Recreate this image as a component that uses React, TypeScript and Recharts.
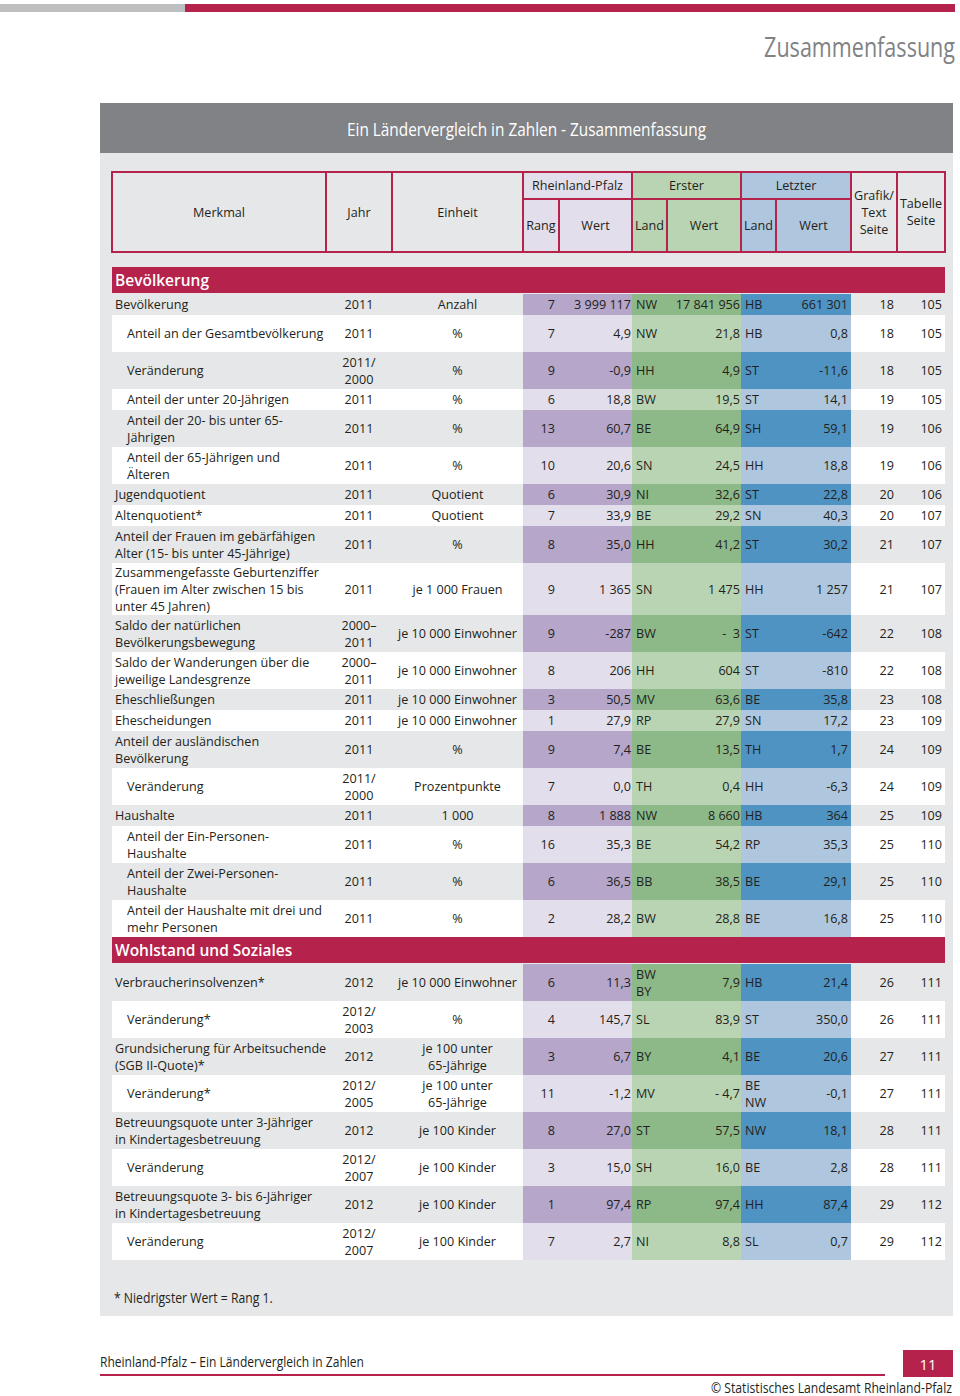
import React from "react";
import { BarChart, Bar, XAxis, YAxis } from "recharts";

const FONT = "'Open Sans', 'Noto Sans', sans-serif";
const RED = "#b5224b";
const INK = "#231f20";

// decorative top band (grey + red segments)
const topBand = [{ name: "band", grey: 185, red: 770 }];

// ---- table data, one array per column ----
const merkmal = [
  "Bevölkerung",
  "Anteil an der Gesamtbevölkerung",
  "Veränderung",
  "Anteil der unter 20-Jährigen",
  "Anteil der 20- bis unter 65-\nJährigen",
  "Anteil der 65-Jährigen und\nÄlteren",
  "Jugendquotient",
  "Altenquotient*",
  "Anteil der Frauen im gebärfähigen\nAlter (15- bis unter 45-Jährige)",
  "Zusammengefasste Geburtenziffer\n(Frauen im Alter zwischen 15 bis\nunter 45 Jahren)",
  "Saldo der natürlichen\nBevölkerungsbewegung",
  "Saldo der Wanderungen über die\njeweilige Landesgrenze",
  "Eheschließungen",
  "Ehescheidungen",
  "Anteil der ausländischen\nBevölkerung",
  "Veränderung",
  "Haushalte",
  "Anteil der Ein-Personen-\nHaushalte",
  "Anteil der Zwei-Personen-\nHaushalte",
  "Anteil der Haushalte mit drei und\nmehr Personen",
  "Verbraucherinsolvenzen*",
  "Veränderung*",
  "Grundsicherung für Arbeitsuchende\n(SGB II-Quote)*",
  "Veränderung*",
  "Betreuungsquote unter 3-Jähriger\nin Kindertagesbetreuung",
  "Veränderung",
  "Betreuungsquote 3- bis 6-Jähriger\nin Kindertagesbetreuung",
  "Veränderung",
];
const indented = [
  false, true, true, true, true, true, false, false, false, false,
  false, false, false, false, false, true, false, true, true, true,
  false, true, false, true, false, true, false, true,
];
const rowLines = [
  1, 2, 2, 1, 2, 2, 1, 1, 2, 3,
  2, 2, 1, 1, 2, 2, 1, 2, 2, 2,
  2, 2, 2, 2, 2, 2, 2, 2,
];
const jahr = [
  "2011", "2011", "2011/\n2000", "2011", "2011", "2011", "2011", "2011", "2011", "2011",
  "2000–\n2011", "2000–\n2011", "2011", "2011", "2011", "2011/\n2000", "2011", "2011", "2011", "2011",
  "2012", "2012/\n2003", "2012", "2012/\n2005", "2012", "2012/\n2007", "2012", "2012/\n2007",
];
const einheit = [
  "Anzahl", "%", "%", "%", "%", "%", "Quotient", "Quotient", "%", "je 1 000 Frauen",
  "je 10 000 Einwohner", "je 10 000 Einwohner", "je 10 000 Einwohner", "je 10 000 Einwohner", "%", "Prozentpunkte", "1 000", "%", "%", "%",
  "je 10 000 Einwohner", "%", "je 100 unter\n65-Jährige", "je 100 unter\n65-Jährige", "je 100 Kinder", "je 100 Kinder", "je 100 Kinder", "je 100 Kinder",
];
const rang = [
  "7", "7", "9", "6", "13", "10", "6", "7", "8", "9",
  "9", "8", "3", "1", "9", "7", "8", "16", "6", "2",
  "6", "4", "3", "11", "8", "3", "1", "7",
];
const rpWert = [
  "3 999 117", "4,9", "-0,9", "18,8", "60,7", "20,6", "30,9", "33,9", "35,0", "1 365",
  "-287", "206", "50,5", "27,9", "7,4", "0,0", "1 888", "35,3", "36,5", "28,2",
  "11,3", "145,7", "6,7", "-1,2", "27,0", "15,0", "97,4", "2,7",
];
const ersterLand = [
  "NW", "NW", "HH", "BW", "BE", "SN", "NI", "BE", "HH", "SN",
  "BW", "HH", "MV", "RP", "BE", "TH", "NW", "BE", "BB", "BW",
  "BW\nBY", "SL", "BY", "MV", "ST", "SH", "RP", "NI",
];
const ersterWert = [
  "17 841 956", "21,8", "4,9", "19,5", "64,9", "24,5", "32,6", "29,2", "41,2", "1 475",
  "-  3", "604", "63,6", "27,9", "13,5", "0,4", "8 660", "54,2", "38,5", "28,8",
  "7,9", "83,9", "4,1", "- 4,7", "57,5", "16,0", "97,4", "8,8",
];
const letzterLand = [
  "HB", "HB", "ST", "ST", "SH", "HH", "ST", "SN", "ST", "HH",
  "ST", "ST", "BE", "SN", "TH", "HH", "HB", "RP", "BE", "BE",
  "HB", "ST", "BE", "BE\nNW", "NW", "BE", "HH", "SL",
];
const letzterWert = [
  "661 301", "0,8", "-11,6", "14,1", "59,1", "18,8", "22,8", "40,3", "30,2", "1 257",
  "-642", "-810", "35,8", "17,2", "1,7", "-6,3", "364", "35,3", "29,1", "16,8",
  "21,4", "350,0", "20,6", "-0,1", "18,1", "2,8", "87,4", "0,7",
];
const grafikSeite = [
  "18", "18", "18", "19", "19", "19", "20", "20", "21", "21",
  "22", "22", "23", "23", "24", "24", "25", "25", "25", "25",
  "26", "26", "27", "27", "28", "28", "29", "29",
];
const tabelleSeite = [
  "105", "105", "105", "105", "106", "106", "106", "107", "107", "107",
  "108", "108", "108", "109", "109", "109", "109", "110", "110", "110",
  "111", "111", "111", "111", "111", "111", "112", "112",
];
const sections = [
  { title: "Bevölkerung", from: 0, to: 20 },
  { title: "Wohlstand und Soziales", from: 20, to: 28 },
];

const PURPLE = ["#b5a6ca", "#e3deeb"];
const GREEN = ["#8db888", "#b9d4b3"];
const BLUE = ["#4f93c3", "#aec6de"];
const PANEL = "#e6e7e8";

const lineH = (n: number) => (n === 1 ? 21 : n === 2 ? 37 : 52);

type CellProps = {
  left: number;
  width: number;
  top: number;
  height: number;
  text: string;
  align?: "left" | "center" | "right";
  bg?: string;
  pad?: number;
};

function Cell({ left, width, top, height, text, align = "center", bg, pad = 0 }: CellProps) {
  return (
    <div
      style={{
        position: "absolute",
        left,
        top,
        width,
        height,
        background: bg,
        display: "flex",
        alignItems: "center",
        justifyContent: align === "left" ? "flex-start" : align === "right" ? "flex-end" : "center",
        boxSizing: "border-box",
        paddingLeft: align === "left" ? pad : 0,
        paddingRight: align === "right" ? pad : 0,
      }}
    >
      <div style={{ whiteSpace: "pre", textAlign: align, lineHeight: "17px" }}>{text}</div>
    </div>
  );
}

function HeaderBox({ left, top, width, height, text, bg }: { left: number; top: number; width: number; height: number; text: string; bg: string }) {
  return (
    <div
      style={{
        position: "absolute",
        left,
        top,
        width,
        height,
        background: bg,
        border: `2px solid ${RED}`,
        boxSizing: "border-box",
        display: "flex",
        alignItems: "center",
        justifyContent: "center",
        textAlign: "center",
        whiteSpace: "pre",
        lineHeight: "17px",
        marginLeft: -1,
        marginTop: -1,
      }}
    >
      {text}
    </div>
  );
}

function TableHeader() {
  const top = 172;
  const mid = 199;
  const bot = 252;
  const full = bot - top + 2;
  const sub = bot - mid + 2;
  const upper = mid - top + 2;
  return (
    <>
      <HeaderBox left={112} top={top} width={326 - 112 + 2} height={full} text="Merkmal" bg={PANEL} />
      <HeaderBox left={326} top={top} width={392 - 326 + 2} height={full} text="Jahr" bg={PANEL} />
      <HeaderBox left={392} top={top} width={523 - 392 + 2} height={full} text="Einheit" bg={PANEL} />
      <HeaderBox left={523} top={top} width={632 - 523 + 2} height={upper} text="Rheinland-Pfalz" bg={PURPLE[1]} />
      <HeaderBox left={632} top={top} width={741 - 632 + 2} height={upper} text="Erster" bg={GREEN[1]} />
      <HeaderBox left={741} top={top} width={851 - 741 + 2} height={upper} text="Letzter" bg={BLUE[1]} />
      <HeaderBox left={523} top={mid} width={559 - 523 + 2} height={sub} text="Rang" bg={PURPLE[1]} />
      <HeaderBox left={559} top={mid} width={632 - 559 + 2} height={sub} text="Wert" bg={PURPLE[1]} />
      <HeaderBox left={632} top={mid} width={667 - 632 + 2} height={sub} text="Land" bg={GREEN[1]} />
      <HeaderBox left={667} top={mid} width={741 - 667 + 2} height={sub} text="Wert" bg={GREEN[1]} />
      <HeaderBox left={741} top={mid} width={776 - 741 + 2} height={sub} text="Land" bg={BLUE[1]} />
      <HeaderBox left={776} top={mid} width={851 - 776 + 2} height={sub} text="Wert" bg={BLUE[1]} />
      <HeaderBox left={851} top={top} width={897 - 851 + 2} height={full} text={"Grafik/\nText\nSeite"} bg={PANEL} />
      <HeaderBox left={897} top={top} width={945 - 897 + 2} height={full} text={"Tabelle\nSeite"} bg={PANEL} />
    </>
  );
}

function DataRow({ i, top, dark }: { i: number; top: number; dark: boolean }) {
  const h = lineH(rowLines[i]);
  const k = dark ? 0 : 1;
  const plain = dark ? undefined : "#ffffff";
  return (
    <>
      <Cell left={112} width={214} top={top} height={h} text={merkmal[i]} align="left" pad={indented[i] ? 15 : 3} bg={plain} />
      <Cell left={326} width={66} top={top} height={h} text={jahr[i]} bg={plain} />
      <Cell left={392} width={131} top={top} height={h} text={einheit[i]} bg={plain} />
      <Cell left={523} width={36} top={top} height={h} text={rang[i]} align="right" pad={4} bg={PURPLE[k]} />
      <Cell left={559} width={73} top={top} height={h} text={rpWert[i]} align="right" pad={1} bg={PURPLE[k]} />
      <Cell left={632} width={35} top={top} height={h} text={ersterLand[i]} align="left" pad={4} bg={GREEN[k]} />
      <Cell left={667} width={74} top={top} height={h} text={ersterWert[i]} align="right" pad={1} bg={GREEN[k]} />
      <Cell left={741} width={35} top={top} height={h} text={letzterLand[i]} align="left" pad={4} bg={BLUE[k]} />
      <Cell left={776} width={75} top={top} height={h} text={letzterWert[i]} align="right" pad={3} bg={BLUE[k]} />
      <Cell left={851} width={46} top={top} height={h} text={grafikSeite[i]} align="right" pad={3} bg={plain} />
      <Cell left={897} width={48} top={top} height={h} text={tabelleSeite[i]} align="right" pad={3} bg={plain} />
    </>
  );
}

function Body() {
  const out: React.ReactNode[] = [];
  let y = 267;
  sections.forEach((s) => {
    out.push(
      <div
        key={s.title}
        style={{
          position: "absolute",
          left: 112,
          top: y,
          width: 833,
          height: 26,
          background: RED,
          color: "#ffffff",
          fontSize: 15.5,
          fontWeight: 600,
          lineHeight: "26px",
          paddingLeft: 3,
          boxSizing: "border-box",
        }}
      >
        {s.title}
      </div>
    );
    y += 27;
    for (let i = s.from; i < s.to; i++) {
      out.push(<DataRow key={i} i={i} top={y} dark={(i - s.from) % 2 === 0} />);
      y += lineH(rowLines[i]);
    }
  });
  return <>{out}</>;
}

// condensed look: no narrow face installed, so squeeze horizontally
const narrow = (origin: string, sx: number): React.CSSProperties => ({
  transform: `scaleX(${sx})`,
  transformOrigin: origin,
  whiteSpace: "nowrap",
});

export default function App() {
  return (
    <div style={{ position: "relative", width: 960, height: 1396, background: "#ffffff", fontFamily: FONT, fontSize: 12.6, color: INK, overflow: "hidden" }}>
      <style>{`body{margin:0}`}</style>
      <div style={{ position: "absolute", left: 0, top: 4 }}>
        <BarChart width={960} height={8} data={topBand} layout="vertical" margin={{ top: 0, right: 0, bottom: 0, left: 0 }} barCategoryGap={0}>
          <XAxis type="number" hide domain={[0, 960]} />
          <YAxis type="category" dataKey="name" hide />
          <Bar dataKey="grey" stackId="a" fill="#bcbec0" isAnimationActive={false} />
          <Bar dataKey="red" stackId="a" fill={RED} isAnimationActive={false} />
        </BarChart>
      </div>
      <div style={{ position: "absolute", right: 5, top: 27, fontSize: 28, color: "#808285", ...narrow("right center", 0.77) }}>Zusammenfassung</div>
      <div
        style={{
          position: "absolute",
          left: 100,
          top: 103,
          width: 853,
          height: 50,
          background: "#808285",
        }}
      />
      <div style={{ position: "absolute", left: 100, top: 116, width: 853, textAlign: "center", color: "#ffffff", fontSize: 18.5, ...narrow("center", 0.83) }}>
        Ein Ländervergleich in Zahlen - Zusammenfassung
      </div>
      <div style={{ position: "absolute", left: 100, top: 153, width: 853, height: 1163, background: PANEL }} />
      <TableHeader />
      <Body />
      <div style={{ position: "absolute", left: 114, top: 1288, fontSize: 14, ...narrow("left center", 0.87) }}>* Niedrigster Wert = Rang 1.</div>
      <div style={{ position: "absolute", left: 100, top: 1352, fontSize: 14, ...narrow("left center", 0.86) }}>Rheinland-Pfalz – Ein Ländervergleich in Zahlen</div>
      <div style={{ position: "absolute", left: 100, top: 1374, width: 785, height: 2, background: RED }} />
      <div
        style={{
          position: "absolute",
          left: 903,
          top: 1350,
          width: 50,
          height: 27,
          background: RED,
          color: "#ffffff",
          fontSize: 15,
          display: "flex",
          alignItems: "center",
          justifyContent: "center",
        }}
      >
        11
      </div>
      <div style={{ position: "absolute", right: 8, top: 1378, fontSize: 14, ...narrow("right center", 0.87) }}>© Statistisches Landesamt Rheinland-Pfalz</div>
    </div>
  );
}
